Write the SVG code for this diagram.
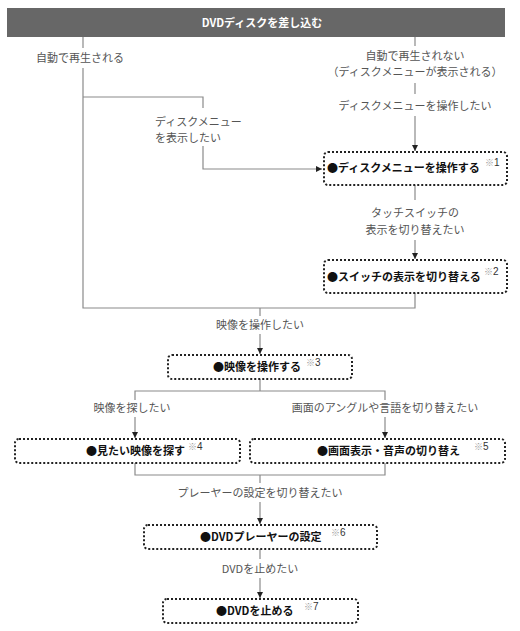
<svg xmlns="http://www.w3.org/2000/svg" width="520" height="631" viewBox="0 0 520 631">
<style>
.ln{fill:none;stroke:#8a8a8a;stroke-width:1.2}
.lbl{font-family:"Noto Sans CJK JP","Noto Sans",sans-serif;font-size:11px;fill:#555}
.box{fill:#fff;stroke:#222;stroke-width:2;stroke-dasharray:2 2}
.bt{font-family:"Noto Sans CJK JP","Noto Sans",sans-serif;font-size:11px;font-weight:bold;fill:#111}
.nt{font-family:"Liberation Sans","Noto Sans CJK JP",sans-serif;font-size:10px;fill:#333}
.nt tspan.k{fill:#999;font-size:9px}
</style>
<defs>
<marker id="ah" viewBox="0 0 6 6" refX="6" refY="3" markerWidth="6" markerHeight="6" markerUnits="userSpaceOnUse" orient="auto">
<path d="M0,0 L6,3 L0,6 Z" fill="#222"/>
</marker>
</defs>
<g id="header">
<rect x="7" y="8" width="498" height="29" fill="#676767"/>
<text x="262" y="27" text-anchor="middle" font-family="Noto Sans CJK JP, Noto Sans, sans-serif" font-size="11" font-weight="bold" fill="#fff">DVDディスクを差し込む</text>
</g>
<g id="connectors">
<path class="ln" d="M83,37 V48 M83,68 V308 H415 V293"/>
<path class="ln" d="M83,97 H203 V108 M203,146 V169 H322" marker-end="url(#ah)"/>
<path class="ln" d="M415,37 V46 M415,83 V94"/>
<path class="ln" d="M415,116 V151" marker-end="url(#ah)"/>
<path class="ln" d="M415,185 V200"/>
<path class="ln" d="M415,240 V259" marker-end="url(#ah)"/>
<path class="ln" d="M260,308 V316"/>
<path class="ln" d="M260,334 V354" marker-end="url(#ah)"/>
<path class="ln" d="M260,379 V391 M135,400 V391 H385 V400"/>
<path class="ln" d="M135,417 V438" marker-end="url(#ah)"/>
<path class="ln" d="M385,417 V438" marker-end="url(#ah)"/>
<path class="ln" d="M135,463 V475 H385 V463 M260,475 V483"/>
<path class="ln" d="M260,502 V524" marker-end="url(#ah)"/>
<path class="ln" d="M260,549 V559"/>
<path class="ln" d="M260,578 V598" marker-end="url(#ah)"/>
</g>
<g id="labels">
<text class="lbl" x="80" y="62" text-anchor="middle">自動で再生される</text>
<text class="lbl" x="415" y="60" text-anchor="middle">自動で再生されない</text>
<text class="lbl" x="415" y="76" text-anchor="middle">（ディスクメニューが表示される）</text>
<text class="lbl" x="415" y="110" text-anchor="middle">ディスクメニューを操作したい</text>
<text class="lbl" x="155" y="126">ディスクメニュー</text>
<text class="lbl" x="155" y="142">を表示したい</text>
<text class="lbl" x="415" y="217" text-anchor="middle">タッチスイッチの</text>
<text class="lbl" x="415" y="234" text-anchor="middle">表示を切り替えたい</text>
<text class="lbl" x="260" y="329" text-anchor="middle">映像を操作したい</text>
<text class="lbl" x="132" y="412" text-anchor="middle">映像を探したい</text>
<text class="lbl" x="385" y="412" text-anchor="middle">画面のアングルや言語を切り替えたい</text>
<text class="lbl" x="260" y="497" text-anchor="middle">プレーヤーの設定を切り替えたい</text>
<text class="lbl" x="260" y="573" text-anchor="middle">DVDを止めたい</text>
</g>
<g id="n1">
<rect class="box" x="324" y="152" width="183" height="33" rx="4"/>
<text class="bt" x="327" y="172">●ディスクメニューを操作する</text>
<text class="nt" x="485" y="166"><tspan class="k">※</tspan>1</text>
</g>
<g id="n2">
<rect class="box" x="324" y="260" width="183" height="33" rx="4"/>
<text class="bt" x="327" y="281">●スイッチの表示を切り替える</text>
<text class="nt" x="484" y="275"><tspan class="k">※</tspan>2</text>
</g>
<g id="n3">
<rect class="box" x="168" y="355" width="184" height="24" rx="4"/>
<text class="bt" x="213" y="371">●映像を操作する</text>
<text class="nt" x="306" y="366"><tspan class="k">※</tspan>3</text>
</g>
<g id="n4">
<rect class="box" x="15" y="439" width="225" height="24" rx="4"/>
<text class="bt" x="86" y="455">●見たい映像を探す</text>
<text class="nt" x="188" y="450"><tspan class="k">※</tspan>4</text>
</g>
<g id="n5">
<rect class="box" x="250" y="439" width="255" height="24" rx="4"/>
<text class="bt" x="317" y="455">●画面表示・音声の切り替え</text>
<text class="nt" x="474" y="450"><tspan class="k">※</tspan>5</text>
</g>
<g id="n6">
<rect class="box" x="144" y="525" width="233" height="24" rx="4"/>
<text class="bt" x="200" y="541">●DVDプレーヤーの設定</text>
<text class="nt" x="331" y="536"><tspan class="k">※</tspan>6</text>
</g>
<g id="n7">
<rect class="box" x="163" y="599" width="195" height="24" rx="4"/>
<text class="bt" x="216" y="615">●DVDを止める</text>
<text class="nt" x="304" y="610"><tspan class="k">※</tspan>7</text>
</g>
</svg>
